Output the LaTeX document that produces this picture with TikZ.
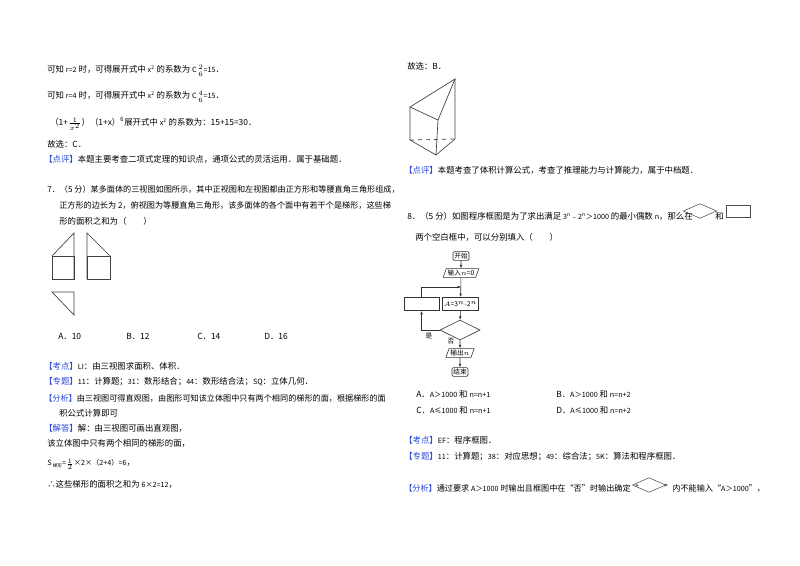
\documentclass[tikz,border=0pt]{standalone}
\usepackage{fontspec}
\setmainfont{Noto Sans CJK SC}
\usetikzlibrary{arrows.meta,shapes.geometric}
\definecolor{tagblue}{RGB}{40,70,220}
\begin{document}
\begin{tikzpicture}[x=0.75pt,y=-0.75pt,
  txt/.style={anchor=west,inner sep=0pt,font=\fontsize{6.3}{7.5}\selectfont},
  wide/.style={anchor=west,inner sep=0pt,font=\fontsize{6.1}{7.5}\selectfont},
  ln/.style={draw=black!75,line width=0.5pt},
  fb/.style={draw=black!80,line width=0.45pt,inner sep=1pt,font=\fontsize{5}{5.5}\selectfont},
  arr/.style={draw=black!80,line width=0.45pt,-{Latex[length=2.5pt,width=2pt]}}]
\useasboundingbox (0,0) rectangle (800,565);
\newcommand{\tg}[1]{\textcolor{tagblue}{【#1】}}
\newcommand{\sm}[1]{{\fontsize{5.4}{6.5}\selectfont #1}}
% left column
\node[txt] (l1) at (47,71) {可知 \sm{r=2} 时，可得展开式中 \sm{x\textsuperscript{2}} 的系数为 \sm{C$^{\,2}_{\,6}$=15}．};
\node[txt] (l2) at (47,97) {可知 \sm{r=4} 时，可得展开式中 \sm{x\textsuperscript{2}} 的系数为 \sm{C$^{\,4}_{\,6}$=15}．};
\node[txt] (l3) at (50,124) {（1+$\frac{1}{x^{2}}$）（1+x）\textsuperscript{6}展开式中 \sm{x\textsuperscript{2}} 的系数为：15+15=30．};
\node[txt] (l4) at (47,144) {故选：C．};
\node[txt] (l5) at (44,159) {\tg{点评}本题主要考查二项式定理的知识点，通项公式的灵活运用．属于基础题．};
\node[wide] (l6) at (47,189) {7．（5 分）某多面体的三视图如图所示，其中正视图和左视图都由正方形和等腰直角三角形组成，};
\node[wide] (l7) at (59,205) {正方形的边长为 2，俯视图为等腰直角三角形，该多面体的各个面中有若干个是梯形，这些梯};
\node[txt] (l8) at (59,221) {形的面积之和为（　　）};
\node[txt] (oa) at (58,336) {A．10};
\node[txt] (ob) at (126,336) {B．12};
\node[txt] (oc) at (197,336) {C．14};
\node[txt] (od) at (264,336) {D．16};
\node[txt] (k1) at (44,366) {\tg{考点}\sm{LI}：由三视图求面积、体积．};
\node[txt] (k2) at (44,382) {\tg{专题}\sm{11}：计算题；\sm{31}：数形结合；\sm{44}：数形结合法；\sm{SQ}：立体几何．};
\node[wide] (k3) at (44,398) {\tg{分析}由三视图可得直观图，由图形可知该立体图中只有两个相同的梯形的面，根据梯形的面};
\node[txt] (k4) at (59,413) {积公式计算即可};
\node[txt] (k5) at (44,428) {\tg{解答}解：由三视图可画出直观图，};
\node[txt] (k6) at (47,443) {该立体图中只有两个相同的梯形的面，};
\node[txt] (k7) at (47,464) {\sm{S\,\raisebox{-1pt}{\fontsize{3.5}{4}\selectfont 梯形}=$\frac{1}{2}$×2×（2+4）=6}，};
\node[txt] (k8) at (47,484) {∴这些梯形的面积之和为 \sm{6×2=12}，};
% three views
\draw[ln] (52,256) rectangle (74,279);
\draw[ln] (52,256) -- (74,233) -- (74,279);
\draw[ln] (87,256) rectangle (110,279);
\draw[ln] (87,279) -- (87,233) -- (110,256);
\draw[ln] (52,292) -- (74,292) -- (74,315) -- cycle;
% right column
\node[txt] (r1) at (407,66) {故选：B．};
\draw[ln] (410,107) -- (455,79) -- (438,120) -- (410,107) -- (410,140) -- (436,155) -- (438,120);
\draw[ln] (436,155) -- (455,139) -- (455,79);
\draw[ln,dashed] (410,140) -- (455,139);
\node[txt] (r2) at (404,170) {\tg{点评}本题考查了体积计算公式，考查了推理能力与计算能力，属于中档题．};
\node[txt] (r3) at (407,216) {8．（5 分）如图程序框图是为了求出满足 \sm{3\textsuperscript{n}﹣2\textsuperscript{n}＞1000} 的最小偶数 \sm{n}，那么在};
\node[draw=black!70,diamond,aspect=1.8,minimum width=25pt,minimum height=11pt,inner sep=0pt] (dq) at (700,211) {};
\node[txt] (he) at (715,216) {和};
\node[draw=black!70,minimum width=18pt,minimum height=9pt,inner sep=0pt] (bq) at (738,211) {};
\node[txt] (r4) at (415,237) {两个空白框中，可以分别填入（　　）};
% flowchart
\node[fb,rounded corners=1pt] (st) at (461,256) {开始};
\node[fb,trapezium,trapezium left angle=70,trapezium right angle=110,inner sep=1pt] (in) at (461,273) {输入$n$=0};
\coordinate (j) at (461,287);
\node[fb,minimum width=26pt,minimum height=10pt] (lb) at (421.5,304) {};
\node[fb,minimum width=26pt,minimum height=10pt] (ab) at (460.5,304) {$A$=3$^{n}$-2$^{n}$};
\node[fb,diamond,aspect=2,minimum width=30pt,minimum height=15pt,inner sep=0pt] (dm) at (460,330) {};
\node[fb,trapezium,trapezium left angle=70,trapezium right angle=110,inner sep=1pt] (ou) at (460,353) {输出$n$};
\node[fb,rounded corners=1pt] (en) at (460,372) {结束};
\draw[arr] (st) -- (in);
\draw[arr] (in) -- (ab);
\draw[arr] (ab) -- (dm);
\draw[arr] (dm) -- (ou);
\draw[arr] (ou) -- (en);
\draw[arr] (dm.west) -- (421.5,330) -- (lb.south);
\draw[arr] (lb.north) -- (421.5,287) -- (j);
\node[inner sep=0pt,font=\fontsize{5}{5.5}\selectfont] (shi) at (429,336) {是};
\node[inner sep=0pt,font=\fontsize{5}{5.5}\selectfont] (fou) at (451,341) {否};
\node[txt] (oA) at (416,394) {A．\sm{A＞1000} 和 \sm{n=n+1}};
\node[txt] (oB) at (556,394) {B．\sm{A＞1000} 和 \sm{n=n+2}};
\node[txt] (oC) at (416,410) {C．\sm{A≤1000} 和 \sm{n=n+1}};
\node[txt] (oD) at (556,410) {D．\sm{A≤1000} 和 \sm{n=n+2}};
\node[txt] (s1) at (404,440) {\tg{考点}\sm{EF}：程序框图．};
\node[txt] (s2) at (404,457) {\tg{专题}\sm{11}：计算题；\sm{38}：对应思想；\sm{49}：综合法；\sm{5K}：算法和程序框图．};
\node[wide] (s3) at (404,488) {\tg{分析}通过要求 \sm{A＞1000} 时输出且框图中在“否”时输出确定“};
\node[draw=black!70,diamond,aspect=1.8,minimum width=25pt,minimum height=11pt,inner sep=0pt] (d2) at (649,485) {};
\node[wide] (s4) at (664,488) {”内不能输入“\sm{A＞1000}”，};
\end{tikzpicture}
\end{document}
